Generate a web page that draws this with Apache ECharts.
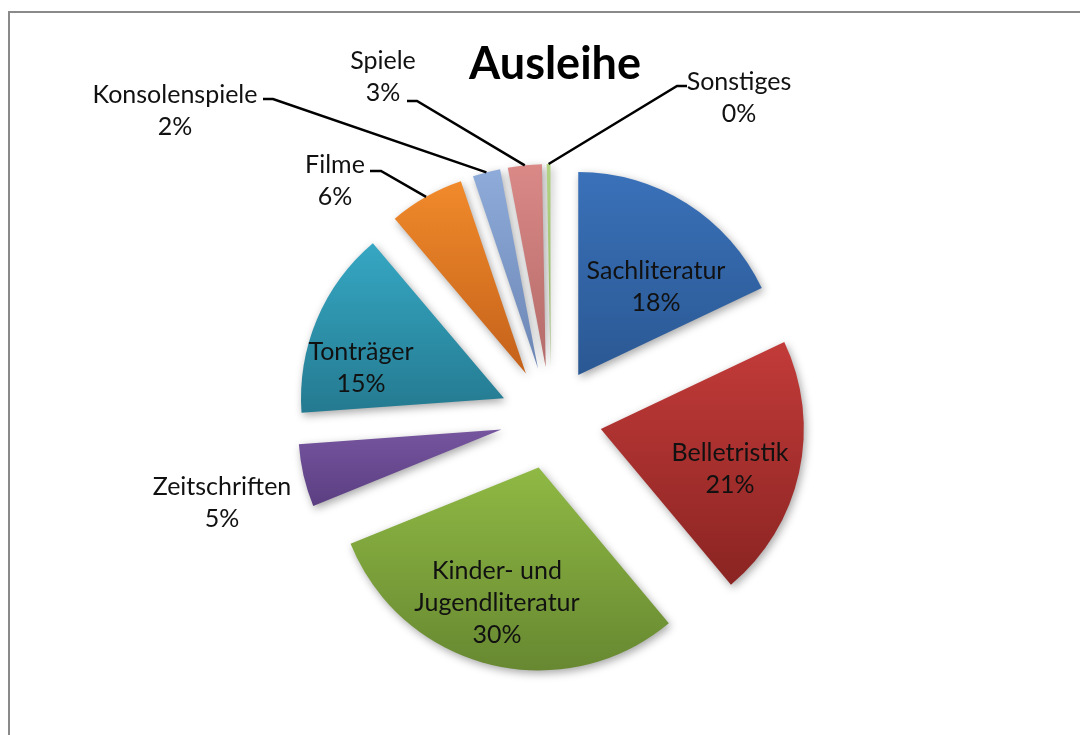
<!DOCTYPE html>
<html>
<head>
<meta charset="utf-8">
<script src="https://cdn.jsdelivr.net/npm/echarts@6/dist/echarts.min.js"></script>
<style>
  html, body { margin: 0; padding: 0; background: #fff; }
  #chart { width: 1080px; height: 735px; }
</style>
</head>
<body>
<div id="chart"></div>
<script>
// Ausleihe nach Medienart
const categories = ['Sachliteratur', 'Belletristik', 'Kinder- und\nJugendliteratur', 'Zeitschriften',
  'Tonträger', 'Filme', 'Konsolenspiele', 'Spiele', 'Sonstiges'];
const shares = [18, 21, 30, 5, 15, 6, 2.2, 2.7, 0.3];

// slice colours (top -> bottom of the gradient)
const topColors = ['#3a71b9', '#c23b39', '#8fb944', '#76559f', '#36a7c3', '#f18a2b', '#8eabda', '#da8987', '#b3d384'];
const bottomColors = ['#2a5893', '#8a2422', '#678831', '#5b3e82', '#247a90', '#c4611a', '#6c86b4', '#b46b69', '#93b566'];

// where Excel put the labels (text block centres)
const labelPos = [[656, 287], [730, 469], [497, 603], [222, 503], [361, 368],
  [335, 181], [175, 111], [383, 77], [739, 98]];
// leader line: end at the label, then the short horizontal step (null = no leader)
const leaderEnd = [null, null, null, null, null,
  [[381, 171], [370, 171]], [[273, 99], [263, 99]], [[417, 101], [407, 101]], [[677, 86], [687, 86]]];

const chart = echarts.init(document.getElementById('chart'));

const slices = categories.map((name, i) => ({
  name,
  value: shares[i],
  selected: true,
  itemStyle: {
    color: new echarts.graphic.LinearGradient(0, 0, 0, 1, [
      { offset: 0, color: topColors[i] },
      { offset: 1, color: bottomColors[i] }
    ])
  }
}));

// invisible twin of the pie, only carries the labels
const labelSlices = categories.map((name, i) => ({
  name,
  value: shares[i],
  labelLine: { show: leaderEnd[i] != null }
}));

const option = {
  animation: false,
  title: {
    text: 'Ausleihe',
    left: 550,
    top: 37,
    textAlign: 'center',
    textStyle: { fontFamily: 'Lato', fontWeight: 'bold', fontSize: 45, color: '#000' }
  },
  graphic: [{
    type: 'rect',
    shape: { x: 9, y: 12, width: 1200, height: 900 },
    style: { fill: 'none', stroke: '#8a8a8a', lineWidth: 2 },
    silent: true
  }],
  series: [{
    type: 'pie',
    center: [551, 418],
    radius: 203,
    startAngle: 90,
    clockwise: true,
    selectedMode: 'multiple',
    selectedOffset: 51,
    emphasis: { disabled: true },
    itemStyle: {
      shadowBlur: 8,
      shadowColor: 'rgba(0,0,0,0.35)',
      shadowOffsetX: 2,
      shadowOffsetY: 3
    },
    label: { show: false },
    labelLine: { show: false },
    data: slices
  }, {
    type: 'pie',
    center: [551, 418],
    radius: 254, // outer arc of the exploded slices
    startAngle: 90,
    clockwise: true,
    silent: true,
    z: 3,
    avoidLabelOverlap: false,
    itemStyle: { color: 'rgba(0,0,0,0)' },
    label: {
      position: 'outside',
      formatter: '{b}\n{d}%',
      fontFamily: 'Lato',
      fontSize: 25,
      lineHeight: 32,
      color: '#111'
    },
    labelLine: {
      length: 10,
      length2: 10,
      lineStyle: { color: '#000', width: 2.5 }
    },
    percentPrecision: 0,
    labelLayout: function (params) {
      const i = params.dataIndex;
      const p = labelPos[i];
      const res = { x: p[0], y: p[1], align: 'center', verticalAlign: 'middle' };
      const lead = leaderEnd[i];
      if (lead && params.labelLinePoints) {
        res.labelLinePoints = [params.labelLinePoints[0], lead[0], lead[1]];
      }
      return res;
    },
    data: labelSlices
  }]
};

chart.setOption(option);
</script>
</body>
</html>
